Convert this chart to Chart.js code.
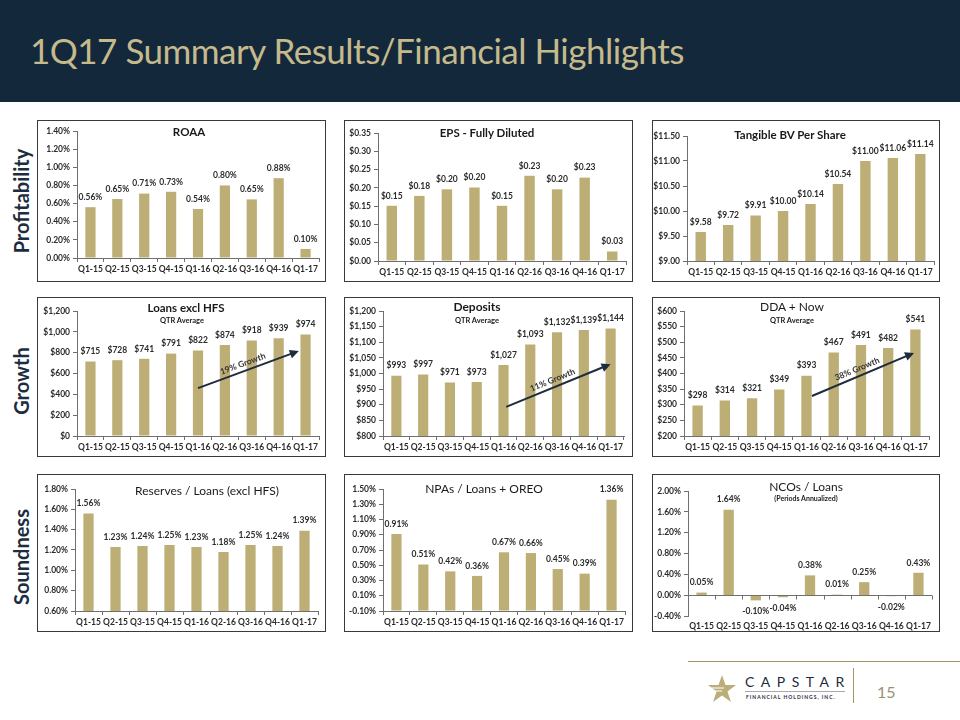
<!DOCTYPE html>
<html>
<head>
<meta charset="utf-8">
<script src="https://cdn.jsdelivr.net/npm/chart.js@4.4.0/dist/chart.umd.min.js"></script>
<style>
    body { margin: 0; width: 960px; height: 720px; position: relative; overflow: hidden; background: #fff; font-family: Lato, sans-serif; }
    .header { position: absolute; left: 0; top: 0; width: 960px; height: 102px; background: #14283c; }
    .header h1 { position: absolute; left: 30px; top: 28px; margin: 0; font-weight: normal; font-size: 35px; line-height: 44px; color: #c5ba8c; white-space: nowrap; letter-spacing: -0.5px; }
    .side { position: absolute; width: 140px; height: 24px; line-height: 24px; text-align: center; font-weight: bold; font-size: 20px; color: #1c2d41; transform: rotate(-90deg); }
    .panel { position: absolute; border: 1px solid #3a3a3a; box-sizing: border-box; pointer-events: none; }
    canvas { position: absolute; }
    .ttl { position: absolute; transform: translate(-50%, -50%); white-space: nowrap; color: #1a1a1a; }
    .footline { position: absolute; left: 688px; top: 661px; width: 272px; height: 1px; background: #a39565; }
</style>
</head>
<body>
<div class="header"><h1>1Q17 Summary Results/Financial Highlights</h1></div>
<div class="side" style="left:-49px; top:189px;">Profitability</div>
<div class="side" style="left:-49px; top:369px;">Growth</div>
<div class="side" style="left:-49px; top:545px;">Soundness</div>

<div class="footline"></div>
<svg style="position:absolute; left:707px; top:675px;" width="30" height="28" viewBox="0 0 30 28">
    <polygon points="15,0 18.5,10 29,10 20.5,16.5 24,27 15,20.5 6,27 9.5,16.5 1,10 11.5,10" fill="#bcae7a"/>
    <path d="M3 13 L17 13 M5 16 L15 16" stroke="#fff" stroke-width="1.2"/>
</svg>
<div style="position:absolute; left:745px; top:673px; font-size:14px; letter-spacing:6.5px; color:#1d2b3b; line-height:18px;">CAPSTAR</div>
<div style="position:absolute; left:745px; top:691px; width:100px; height:1px; background:#aaa;"></div>
<div style="position:absolute; left:746px; top:694px; font-size:5px; font-weight:bold; letter-spacing:1px; color:#1d2b3b; line-height:7px;">FINANCIAL HOLDINGS, INC.</div>
<div style="position:absolute; left:853px; top:668px; width:1px; height:35px; background:#a39565;"></div>
<div style="position:absolute; left:877px; top:682px; font-size:16px; color:#9a9272; line-height:20px;">15</div>

<script>
// quarter labels and series
const quarters = ["Q1-15", "Q2-15", "Q3-15", "Q4-15", "Q1-16", "Q2-16", "Q3-16", "Q4-16", "Q1-17"];
const roaa = [0.56, 0.65, 0.71, 0.73, 0.54, 0.80, 0.646, 0.88, 0.10];
const eps = [0.151, 0.178, 0.196, 0.201, 0.151, 0.233, 0.196, 0.228, 0.026];
const tangibleBv = [9.58, 9.72, 9.91, 10.00, 10.14, 10.54, 11.00, 11.06, 11.14];
const loans = [715, 728, 741, 791, 822, 874, 918, 939, 974];
const deposits = [993, 997, 971, 973, 1027, 1093, 1132, 1139, 1144];
const ddaNow = [298, 314, 321, 349, 393, 467, 491, 482, 541];
const reserves = [1.56, 1.23, 1.24, 1.25, 1.23, 1.18, 1.25, 1.24, 1.39];
const npas = [0.91, 0.51, 0.42, 0.36, 0.67, 0.66, 0.45, 0.39, 1.36];
const ncos = [0.05, 1.64, -0.10, -0.04, 0.38, 0.01, 0.25, -0.02, 0.43];

const clean = (v) => { const r = Math.round(v * 1e6) / 1e6; return r === 0 ? 0 : r; };
const pct = (v) => clean(v).toFixed(2) + "%";
const usd2 = (v) => "$" + clean(v).toFixed(2);
const usd0 = (v) => "$" + Math.round(v).toLocaleString("en-US");

Chart.defaults.font.family = "Lato";
Chart.defaults.animation = false;

const GOLD = "#bdae76";
const AXIS = "#6f6f6f";
const TXT = "#2b2b2b";

function barLabels(fmt) {
    return {
        id: "barLabels",
        afterDatasetsDraw(chart) {
            const ctx = chart.ctx;
            const vals = chart.data.datasets[0].data;
            ctx.save();
            ctx.font = "bold 8.5px Lato";
            ctx.fillStyle = TXT;
            ctx.textAlign = "center";
            ctx.textBaseline = "middle";
            chart.getDatasetMeta(0).data.forEach((bar, i) => {
                const v = vals[i];
                ctx.fillText(fmt(v), bar.x, v < 0 ? bar.y + 11 : bar.y - 10);
            });
            ctx.restore();
        },
    };
}

function growthArrow(a) {
    return {
        id: "growthArrow",
        afterDatasetsDraw(chart) {
            const { ctx, scales } = chart;
            const x0 = scales.x.getPixelForValue(a.from[0]);
            const y0 = scales.y.getPixelForValue(a.from[1]);
            const x1 = scales.x.getPixelForValue(a.to[0]);
            const y1 = scales.y.getPixelForValue(a.to[1]);
            const len = Math.hypot(x1 - x0, y1 - y0);
            ctx.save();
            ctx.translate(x0, y0);
            ctx.rotate(Math.atan2(y1 - y0, x1 - x0));
            ctx.strokeStyle = "#1e2c3b";
            ctx.fillStyle = "#1e2c3b";
            ctx.lineWidth = 2;
            ctx.beginPath();
            ctx.moveTo(0, 0);
            ctx.lineTo(len - 7, 0);
            ctx.stroke();
            ctx.beginPath();
            ctx.moveTo(len, 0);
            ctx.lineTo(len - 9, -4.5);
            ctx.lineTo(len - 9, 4.5);
            ctx.closePath();
            ctx.fill();
            ctx.font = "bold 8.5px Lato";
            ctx.fillStyle = "#333";
            ctx.textAlign = "center";
            ctx.textBaseline = "bottom";
            ctx.fillText(a.text, len * 0.47, -3);
            ctx.restore();
        },
    };
}

// line at zero with category tick marks (NCOs chart)
const zeroAxis = {
    id: "zeroAxis",
    afterDatasetsDraw(chart) {
        const { ctx, scales, chartArea } = chart;
        const y0 = Math.round(scales.y.getPixelForValue(0)) + 0.5;
        ctx.save();
        ctx.strokeStyle = AXIS;
        ctx.lineWidth = 1;
        ctx.beginPath();
        ctx.moveTo(chartArea.left, y0);
        ctx.lineTo(chartArea.right, y0);
        const step = (chartArea.right - chartArea.left) / quarters.length;
        for (let i = 0; i <= quarters.length; i++) {
            const x = Math.round(chartArea.left + i * step) + 0.5;
            ctx.moveTo(x, y0);
            ctx.lineTo(x, y0 + 4);
        }
        ctx.stroke();
        ctx.restore();
    },
};

function addTitle(text, cx, cy, font) {
    const d = document.createElement("div");
    d.className = "ttl";
    d.textContent = text;
    d.style.left = cx + "px";
    d.style.top = cy + "px";
    d.style.font = font;
    document.body.appendChild(d);
}

function makeChart(p) {
    const [bx, by, bw, bh] = p.box;
    const [pl, pt, pr, pb] = p.plot;
    const canvas = document.createElement("canvas");
    canvas.width = bw;
    canvas.height = bh;
    canvas.style.left = bx + "px";
    canvas.style.top = by + "px";
    document.body.appendChild(canvas);
    const border = document.createElement("div");
    border.className = "panel";
    Object.assign(border.style, { left: bx + "px", top: by + "px", width: bw + "px", height: bh + "px" });
    document.body.appendChild(border);

    const plugins = [barLabels(p.fmt)];
    if (p.arrow) plugins.push(growthArrow(p.arrow));
    if (p.zeroLine) plugins.push(zeroAxis);

    new Chart(canvas, {
        type: "bar",
        data: {
            labels: quarters,
            datasets: [
                {
                    data: p.data,
                    backgroundColor: GOLD,
                    barPercentage: 0.38,
                    categoryPercentage: 1,
                    base: p.base,
                },
            ],
        },
        options: {
            responsive: false,
            events: [],
            layout: { padding: { top: pt - by, right: bx + bw - pr, bottom: 0, left: 0 } },
            plugins: { legend: { display: false }, tooltip: { enabled: false }, title: { display: false } },
            scales: {
                x: {
                    afterFit: (s) => { s.height = by + bh - pb; },
                    border: { display: !p.zeroLine, color: AXIS },
                    grid: { display: !p.zeroLine, drawOnChartArea: false, tickLength: 4, color: AXIS },
                    ticks: {
                        color: TXT,
                        font: { size: 8.5, weight: "bold" },
                        padding: p.zeroLine ? 1 : 2,
                        maxRotation: 0,
                        autoSkip: false,
                    },
                },
                y: {
                    min: p.min,
                    max: p.max,
                    afterFit: (s) => { s.width = pl - bx; },
                    border: { color: AXIS },
                    grid: { drawOnChartArea: false, tickLength: 4, color: AXIS },
                    ticks: {
                        stepSize: p.step,
                        color: TXT,
                        font: { size: 8.5, weight: "bold" },
                        padding: 3,
                        callback: (v) => p.tick(v),
                    },
                },
            },
        },
        plugins: plugins,
    });
}

const R1 = [120, 162], R2 = [297, 160], R3 = [474, 158];
const C1 = [37, 289], C2 = [344, 289], C3 = [652, 288];

makeChart({ box: [C1[0], R1[0], C1[1], R1[1]], plot: [77, 131, 319, 258], data: roaa, min: 0, max: 1.4, step: 0.2, tick: pct, fmt: pct });
makeChart({ box: [C2[0], R1[0], C2[1], R1[1]], plot: [378, 133, 626, 261], data: eps, min: 0, max: 0.35, step: 0.05, tick: usd2, fmt: usd2 });
makeChart({ box: [C3[0], R1[0], C3[1], R1[1]], plot: [687, 136, 934, 261], data: tangibleBv, min: 9, max: 11.5, step: 0.5, tick: usd2, fmt: usd2 });

makeChart({ box: [C1[0], R2[0], C1[1], R2[1]], plot: [77, 311, 319, 436], data: loans, min: 0, max: 1200, step: 200, tick: usd0, fmt: usd0,
    arrow: { from: [4, 460], to: [7.75, 816], text: "19% Growth" } });
makeChart({ box: [C2[0], R2[0], C2[1], R2[1]], plot: [383, 311, 624, 436], data: deposits, min: 800, max: 1200, step: 50, tick: usd0, fmt: usd0,
    arrow: { from: [4.1, 893], to: [8.0, 1030], text: "11% Growth" } });
makeChart({ box: [C3[0], R2[0], C3[1], R2[1]], plot: [684, 311, 929, 436], data: ddaNow, min: 200, max: 600, step: 50, tick: usd0, fmt: usd0,
    arrow: { from: [4.2, 328], to: [7.95, 466], text: "38% Growth" } });

makeChart({ box: [C1[0], R3[0], C1[1], R3[1]], plot: [75, 489, 318, 611], data: reserves, min: 0.6, max: 1.8, step: 0.2, tick: pct, fmt: pct });
makeChart({ box: [C2[0], R3[0], C2[1], R3[1]], plot: [383, 489, 625, 611], data: npas, min: -0.1, max: 1.5, step: 0.2, tick: pct, fmt: pct, base: -0.1 });
makeChart({ box: [C3[0], R3[0], C3[1], R3[1]], plot: [688, 491, 932, 616], data: ncos, min: -0.4, max: 2.0, step: 0.4, tick: pct, fmt: pct, zeroLine: true });

addTitle("ROAA", 189, 131, "bold 11.5px Lato");
addTitle("EPS - Fully Diluted", 487, 132, "bold 11.5px Lato");
addTitle("Tangible BV Per Share", 790, 134, "bold 11.5px Lato");
addTitle("Loans excl HFS", 186, 307, "bold 11.5px Lato");
addTitle("QTR Average", 182, 320, "bold 7.5px Lato");
addTitle("Deposits", 477, 306, "bold 12px Lato");
addTitle("QTR Average", 477, 320, "bold 7.5px Lato");
addTitle("DDA + Now", 792, 306, "12px Lato");
addTitle("QTR Average", 792, 320, "bold 7.5px Lato");
addTitle("Reserves / Loans (excl HFS)", 207, 490, "12px Lato");
addTitle("NPAs / Loans + OREO", 484, 488, "12px Lato");
addTitle("NCOs / Loans", 806, 486, "12px Lato");
addTitle("(Periods Annualized)", 806, 498, "bold 7px Lato");
</script>
</body>
</html>
